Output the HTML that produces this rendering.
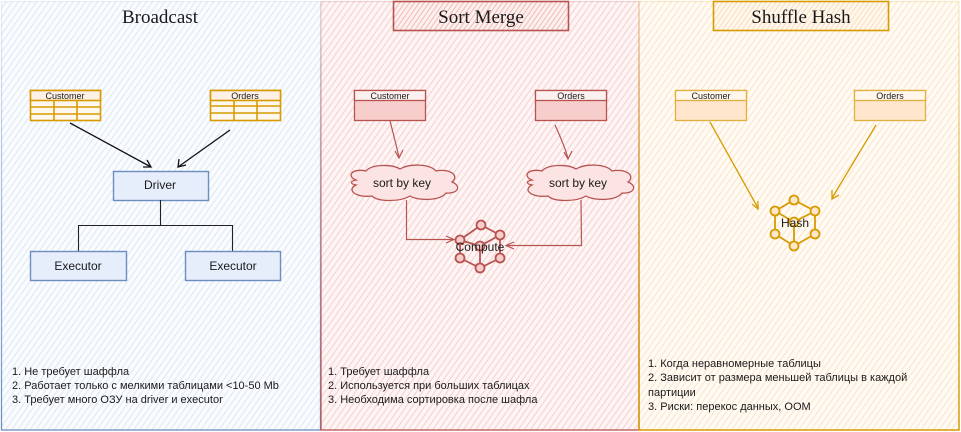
<!DOCTYPE html>
<html><head><meta charset="utf-8"><style>
html,body{margin:0;padding:0;background:#fff;}
svg{display:block;}
.t{font-family:"Liberation Sans",Arial,sans-serif;fill:#1a1a1a;}
.ti{font-family:"Liberation Serif","DejaVu Serif",serif;fill:#1a1a1a;}
</style></head><body>
<svg width="961" height="432" viewBox="0 0 961 432" xmlns="http://www.w3.org/2000/svg">
<defs>
<pattern id="hb" width="5" height="5" patternUnits="userSpaceOnUse" patternTransform="rotate(35)"><rect width="5" height="5" fill="#fbfcfe"/><line x1="1" y1="0" x2="1" y2="5" stroke="#e0eaf8" stroke-width="1.2"/></pattern>
<pattern id="hr" width="5" height="5" patternUnits="userSpaceOnUse" patternTransform="rotate(35)"><rect width="5" height="5" fill="#fef6f6"/><line x1="1" y1="0" x2="1" y2="5" stroke="#f8d3d1" stroke-width="1.2"/></pattern>
<pattern id="ho" width="5" height="5" patternUnits="userSpaceOnUse" patternTransform="rotate(35)"><rect width="5" height="5" fill="#fffbf5"/><line x1="1" y1="0" x2="1" y2="5" stroke="#fde7cf" stroke-width="1.2"/></pattern>
<pattern id="hr2" width="4" height="4" patternUnits="userSpaceOnUse" patternTransform="rotate(35)"><rect width="4" height="4" fill="#fdf1f0"/><line x1="1" y1="0" x2="1" y2="4" stroke="#f3b9b6" stroke-width="1"/></pattern>
<pattern id="ho2" width="4" height="4" patternUnits="userSpaceOnUse" patternTransform="rotate(35)"><rect width="4" height="4" fill="#fff8ef"/><line x1="1" y1="0" x2="1" y2="4" stroke="#fcdcb8" stroke-width="1"/></pattern>
<linearGradient id="gb" x1="0" y1="0" x2="0" y2="1"><stop offset="0" stop-color="#6c8ebf" stop-opacity="0.1"/><stop offset="0.4" stop-color="#6c8ebf" stop-opacity="0.5"/><stop offset="1" stop-color="#6c8ebf" stop-opacity="1"/></linearGradient>
<linearGradient id="gr" x1="0" y1="0" x2="0" y2="1"><stop offset="0" stop-color="#b85450" stop-opacity="0.2"/><stop offset="0.4" stop-color="#b85450" stop-opacity="0.6"/><stop offset="1" stop-color="#b85450" stop-opacity="1"/></linearGradient>
<linearGradient id="go" x1="0" y1="0" x2="0" y2="1"><stop offset="0" stop-color="#d79b00" stop-opacity="0.15"/><stop offset="0.4" stop-color="#d79b00" stop-opacity="0.6"/><stop offset="1" stop-color="#d79b00" stop-opacity="1"/></linearGradient>
</defs>

<!-- panels -->
<rect x="1" y="1" width="320" height="429" fill="url(#hb)"/>
<rect x="321" y="1" width="318" height="429" fill="url(#hr)"/>
<rect x="639" y="1" width="320" height="429" fill="url(#ho)"/>
<rect x="1.5" y="1.5" width="319" height="428.5" fill="none" stroke="url(#gb)" stroke-width="1.3"/>
<rect x="321" y="1.5" width="318" height="428.5" fill="none" stroke="url(#gr)" stroke-width="1.3"/>
<rect x="639" y="1.5" width="320" height="428.5" fill="none" stroke="url(#go)" stroke-width="1.5"/>

<!-- ===== Broadcast ===== -->
<text class="ti" x="160" y="23" font-size="19" text-anchor="middle">Broadcast</text>

<g stroke="#d79b00" stroke-width="1.6" fill="none">
<rect x="30.5" y="90.5" width="70" height="30" fill="#fff8ef"/>
<rect x="30.5" y="90.5" width="70" height="10" fill="#fdf0e6"/>
<line x1="30" y1="107" x2="100" y2="107"/><line x1="30" y1="114" x2="100" y2="114"/>
<line x1="54" y1="100" x2="54" y2="120"/><line x1="77" y1="100" x2="77" y2="120"/>
<rect x="210.5" y="90.5" width="70" height="30" fill="#fff8ef"/>
<rect x="210.5" y="90.5" width="70" height="10" fill="#fdf0e6"/>
<line x1="210" y1="106" x2="280" y2="106"/><line x1="210" y1="113" x2="280" y2="113"/>
<line x1="234" y1="100" x2="234" y2="120"/><line x1="257" y1="100" x2="257" y2="120"/>
</g>
<text class="t" x="65" y="99" font-size="9" text-anchor="middle">Customer</text>
<text class="t" x="245" y="99" font-size="9" text-anchor="middle">Orders</text>

<g stroke="#111" stroke-width="1.3" fill="none">
<line x1="70" y1="123" x2="151" y2="167"/>
<polyline points="143,167 151,167 147,160"/>
<line x1="230" y1="130" x2="178" y2="167"/>
<polyline points="179,159 178,167 186,165"/>
</g>

<rect x="113.5" y="171.5" width="95" height="29" fill="#e6eefb" stroke="#6c8ebf" stroke-width="1.4"/>
<text class="t" x="160" y="189" font-size="12" text-anchor="middle">Driver</text>
<g stroke="#222" stroke-width="1.1" fill="none">
<line x1="160.5" y1="200" x2="160.5" y2="225.5"/>
<line x1="78" y1="225.5" x2="233" y2="225.5"/>
<line x1="78.5" y1="225" x2="78.5" y2="251"/>
<line x1="232.5" y1="225" x2="232.5" y2="251"/>
</g>
<rect x="30.5" y="251.5" width="96" height="29" fill="#e6eefb" stroke="#6c8ebf" stroke-width="1.4"/>
<rect x="185.5" y="251.5" width="95" height="29" fill="#e6eefb" stroke="#6c8ebf" stroke-width="1.4"/>
<text class="t" x="78" y="270" font-size="12" text-anchor="middle">Executor</text>
<text class="t" x="233" y="270" font-size="12" text-anchor="middle">Executor</text>

<g class="t" font-size="11">
<text x="12" y="375">1. Не требует шаффла</text>
<text x="12" y="389">2. Работает только с мелкими таблицами &lt;10-50 Mb</text>
<text x="12" y="403">3. Требует много ОЗУ на driver и executor</text>
</g>

<!-- ===== Sort Merge ===== -->
<rect x="393.5" y="1.5" width="175" height="29" fill="url(#hr2)" stroke="#b85450" stroke-width="1.6"/>
<text class="ti" x="481" y="23" font-size="19" text-anchor="middle">Sort Merge</text>

<g stroke="#b85450" stroke-width="1.3">
<rect x="354.5" y="90.5" width="71" height="30" fill="#f8cecc"/>
<rect x="354.5" y="90.5" width="71" height="10" fill="#fdf1f0"/>
<rect x="535.5" y="90.5" width="71" height="30" fill="#f8cecc"/>
<rect x="535.5" y="90.5" width="71" height="10" fill="#fdf1f0"/>
</g>
<text class="t" x="390" y="99" font-size="9" text-anchor="middle">Customer</text>
<text class="t" x="571" y="99" font-size="9" text-anchor="middle">Orders</text>

<g stroke="#b85450" stroke-width="1.2" fill="none">
<path d="M390,121 Q395,140 399,157"/>
<polyline points="395,151 399,158 403,150"/>
<path d="M555,125 Q563,142 568,158"/>
<polyline points="564,152 568,159 572,151"/>
</g>

<g stroke="#b85450" stroke-width="1.3" fill="#fbe4e3">
<path d="M356,180 C346,176 352,168 366,171 C372,164 392,164 400,169 C410,163 430,164 436,171 C450,168 460,176 452,182 C462,186 458,194 446,193 C440,201 418,201 410,196 C400,202 378,202 372,196 C356,198 346,190 356,185 C350,184 350,181 356,180 Z"/>
<path d="M532,180 C522,176 528,168 542,171 C548,164 568,164 576,169 C586,163 606,164 612,171 C626,168 636,176 628,182 C638,186 634,194 622,193 C616,201 594,201 586,196 C576,202 554,202 548,196 C532,198 522,190 532,185 C526,184 526,181 532,180 Z"/>
</g>
<text class="t" x="402" y="187" font-size="12" text-anchor="middle">sort by key</text>
<text class="t" x="578" y="187" font-size="12" text-anchor="middle">sort by key</text>

<g stroke="#b85450" stroke-width="1.2" fill="none">
<polyline points="406.5,200 406.5,239.5 453,239.5"/>
<polyline points="446,236 454,239.5 446,243"/>
<polyline points="581,200 581.5,245.5 507,245.5"/>
<polyline points="514,242 506,245.5 514,249"/>
</g>

<g stroke="#b85450" stroke-width="1.8" fill="#f8cecc">
<polygon points="481,225 500,235 500,258 480,268 460,258 460,240" fill="none"/>
<polyline points="460,240 480,246 500,235" fill="none"/>
<line x1="480" y1="246" x2="480" y2="268"/>
<circle cx="481" cy="225" r="4.5"/><circle cx="500" cy="235" r="4.5"/><circle cx="500" cy="258" r="4.5"/>
<circle cx="480" cy="268" r="4.5"/><circle cx="460" cy="258" r="4.5"/><circle cx="460" cy="240" r="4.5"/>
<circle cx="480" cy="246" r="4.5"/>
</g>
<text class="t" x="480" y="251" font-size="12" text-anchor="middle">Compute</text>

<g class="t" font-size="11">
<text x="328" y="375">1. Требует шаффла</text>
<text x="328" y="389">2. Используется при больших таблицах</text>
<text x="328" y="403">3. Необходима сортировка после шафла</text>
</g>

<!-- ===== Shuffle Hash ===== -->
<rect x="713.5" y="1.5" width="175" height="29" fill="url(#ho2)" stroke="#d79b00" stroke-width="1.6"/>
<text class="ti" x="801" y="23" font-size="19" text-anchor="middle">Shuffle Hash</text>

<g stroke="#e0b040" stroke-width="1.3">
<rect x="675.5" y="90.5" width="71" height="30" fill="#ffe6cc"/>
<rect x="675.5" y="90.5" width="71" height="10" fill="#fff6ec"/>
<rect x="854.5" y="90.5" width="71" height="30" fill="#ffe6cc"/>
<rect x="854.5" y="90.5" width="71" height="10" fill="#fff6ec"/>
</g>
<text class="t" x="711" y="99" font-size="9" text-anchor="middle">Customer</text>
<text class="t" x="890" y="99" font-size="9" text-anchor="middle">Orders</text>

<g stroke="#d79b00" stroke-width="1.3" fill="none">
<line x1="710" y1="122" x2="758" y2="208"/>
<polyline points="752,204 758,209 758,201"/>
<line x1="876" y1="125" x2="832" y2="198"/>
<polyline points="832,190 832,199 839,195"/>
</g>

<g stroke="#d79b00" stroke-width="1.8" fill="#ffe6cc">
<polygon points="794,200 815,211 815,234 794,246 775,234 775,211" fill="none"/>
<polyline points="775,211 794,222 815,211" fill="none"/>
<line x1="794" y1="222" x2="794" y2="246"/>
<circle cx="794" cy="200" r="4.5"/><circle cx="815" cy="211" r="4.5"/><circle cx="815" cy="234" r="4.5"/>
<circle cx="794" cy="246" r="4.5"/><circle cx="775" cy="234" r="4.5"/><circle cx="775" cy="211" r="4.5"/>
<circle cx="794" cy="222" r="4.5"/>
</g>
<text class="t" x="795" y="227" font-size="12" text-anchor="middle">Hash</text>

<g class="t" font-size="11">
<text x="648" y="367">1. Когда неравномерные таблицы</text>
<text x="648" y="381">2. Зависит от размера меньшей таблицы в каждой</text>
<text x="648" y="396">партиции</text>
<text x="648" y="410">3. Риски: перекос данных, OOM</text>
</g>
</svg>
</body></html>
